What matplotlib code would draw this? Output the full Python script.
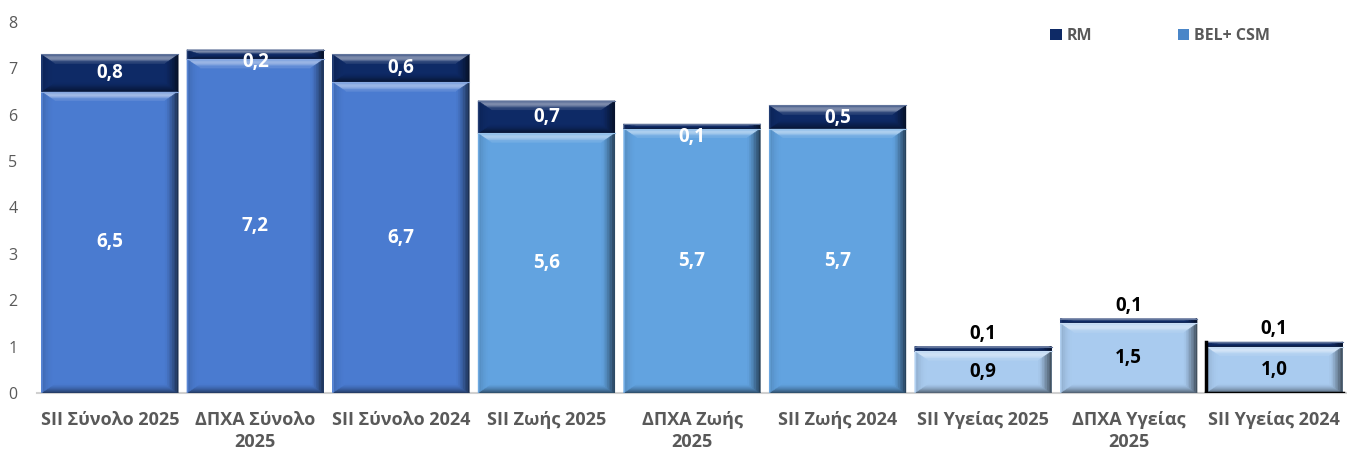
import matplotlib
matplotlib.use("Agg")
import matplotlib.pyplot as plt
from matplotlib.patches import Polygon
from matplotlib.colors import to_rgb
import numpy as np

plt.rcParams['font.family'] = ['Open Sans', 'DejaVu Sans']

categories = ["SII Σύνολο 2025", "ΔΠΧΑ Σύνολο\n2025", "SII Σύνολο 2024",
              "SII Ζωής 2025", "ΔΠΧΑ Ζωής\n2025", "SII Ζωής 2024",
              "SII Υγείας 2025", "ΔΠΧΑ Υγείας\n2025", "SII Υγείας 2024"]
bel_csm = [6.5, 7.2, 6.7, 5.6, 5.7, 5.7, 0.9, 1.5, 1.0]
rm = [0.8, 0.2, 0.6, 0.7, 0.1, 0.5, 0.1, 0.1, 0.1]
bel_colors = ["#4a7bd0"] * 3 + ["#62a3e0"] * 3 + ["#a9cbef"] * 3
rm_color = "#0e2a66"
yticks = [0, 1, 2, 3, 4, 5, 6, 7, 8]

W, H, DPI = 13.47, 4.54, 100
fig = plt.figure(figsize=(W, H), dpi=DPI)
ax = fig.add_axes([37 / 1347, 1 - 393 / 454, 1 - 37 / 1347, (393 - 22) / 454])
x = np.arange(len(categories))
width = 0.94
ax.set_xlim(-0.5, len(categories) - 0.5)
ax.set_ylim(0, 8)


def mix(c, other, t):
    c = np.array(to_rgb(c)); o = np.array(to_rgb(other))
    return tuple(np.clip(c * (1 - t) + o * t, 0, 1))


def shade(c, t):
    # t > 0 lighten, t < 0 darken
    return mix(c, "white", t) if t >= 0 else mix(c, "black", -t)


ax_w_px = (1 - 37 / 1347) * W * DPI
ax_h_px = (393 - 22) / 454 * H * DPI
px_x = len(categories) / ax_w_px
px_y = 8 / ax_h_px

N = 8
fr = np.linspace(0, 1, N + 1)
prof = {
    'top': lambda f: 0.12 + 0.42 * np.sin(np.pi * min(f * 1.2, 1.0)) * (1 - 0.3 * f),
    'bottom': lambda f: -0.55 * (1 - f) ** 1.3,
    'left': lambda f: -0.18 * (1 - f) ** 2 + (0.25 if f < 0.12 else 0),
    'right': lambda f: -0.65 * (1 - f) ** 1.2,
}


def bevel(patch, color):
    x0, y0 = patch.get_x(), patch.get_y()
    w, h = patch.get_width(), patch.get_height()
    bx = 13 * px_x
    by = min(9 * px_y, h / 2)
    x1, y1 = x0 + w, y0 + h
    for k in range(N):
        d0, d1 = fr[k], fr[k + 1]
        fm = (d0 + d1) / 2
        sides = {
            'top': [(x0 + d0 * bx, y1 - d0 * by), (x1 - d0 * bx, y1 - d0 * by),
                    (x1 - d1 * bx, y1 - d1 * by), (x0 + d1 * bx, y1 - d1 * by)],
            'bottom': [(x0 + d0 * bx, y0 + d0 * by), (x1 - d0 * bx, y0 + d0 * by),
                       (x1 - d1 * bx, y0 + d1 * by), (x0 + d1 * bx, y0 + d1 * by)],
            'left': [(x0 + d0 * bx, y0 + d0 * by), (x0 + d0 * bx, y1 - d0 * by),
                     (x0 + d1 * bx, y1 - d1 * by), (x0 + d1 * bx, y0 + d1 * by)],
            'right': [(x1 - d0 * bx, y0 + d0 * by), (x1 - d0 * bx, y1 - d0 * by),
                      (x1 - d1 * bx, y1 - d1 * by), (x1 - d1 * bx, y0 + d1 * by)],
        }
        for side, pts in sides.items():
            c = shade(color, prof[side](fm))
            ax.add_patch(Polygon(pts, closed=True, facecolor=c, edgecolor=c, lw=0.3, zorder=3))
    ax.plot([x0, x1], [y1, y1], color=shade(color, 0.35), lw=0.8, zorder=4)


bars_bel = ax.bar(x, bel_csm, width, color=bel_colors, zorder=2, label="BEL+ CSM")
bars_rm = ax.bar(x, rm, width, bottom=bel_csm, color=rm_color, zorder=2, label="RM")
for p, c in zip(bars_bel, bel_colors):
    bevel(p, c)
for p in bars_rm:
    bevel(p, rm_color)

# black border on last bar (left and bottom)
p = bars_bel[-1]
ax.plot([p.get_x(), p.get_x()], [0, p.get_height() + rm[-1]], color="black", lw=2.5, zorder=5)
ax.plot([p.get_x(), p.get_x() + p.get_width()], [0.01, 0.01], color="black", lw=2.5, zorder=5)

lab_kw = dict(ha='center', va='center', fontsize=13.5, fontweight='bold', zorder=6)
for i in range(len(categories)):
    b, r = bel_csm[i], rm[i]
    inner = "white" if i < 6 else "black"
    ax.text(x[i], b / 2, f"{b:.1f}".replace('.', ','), color=inner, **lab_kw)
    if i < 6:
        ax.text(x[i], b + r - max(r / 2, 0.27), f"{r:.1f}".replace('.', ','), color="white", **lab_kw)
    else:
        ax.text(x[i], b + r + 0.06, f"{r:.1f}".replace('.', ','), color="black",
                ha='center', va='bottom', fontsize=13.5, fontweight='bold', zorder=6)

ax.set_xticks(x)
ax.set_xticklabels(categories, fontsize=13, fontweight='bold', color="#595959", linespacing=1.3)
ax.set_yticks(yticks)
ax.set_yticklabels([str(v) for v in yticks], fontsize=11.5, color="#595959")
ax.tick_params(axis='both', length=0)
ax.tick_params(axis='x', pad=13)
ax.tick_params(axis='y', pad=14)
for s in ['top', 'right', 'left']:
    ax.spines[s].set_visible(False)
ax.spines['bottom'].set_color("#d0d0d0")
ax.spines['bottom'].set_linewidth(1.5)

handles = [bars_rm[0], bars_bel[0]]
leg = fig.legend(handles, ["RM", "BEL+ CSM"], loc='center left', bbox_to_anchor=(1036 / 1347, 1 - 36 / 454),
                 ncol=2, frameon=False, handlelength=0.7, handleheight=0.7, handletextpad=0.3,
                 columnspacing=5.4, prop={'weight': 'bold', 'size': 11.5})
for t in leg.get_texts():
    t.set_color("#595959")
leg.legend_handles[1].set_facecolor("#4a86c8")

fig.savefig("out.png", dpi=DPI)
